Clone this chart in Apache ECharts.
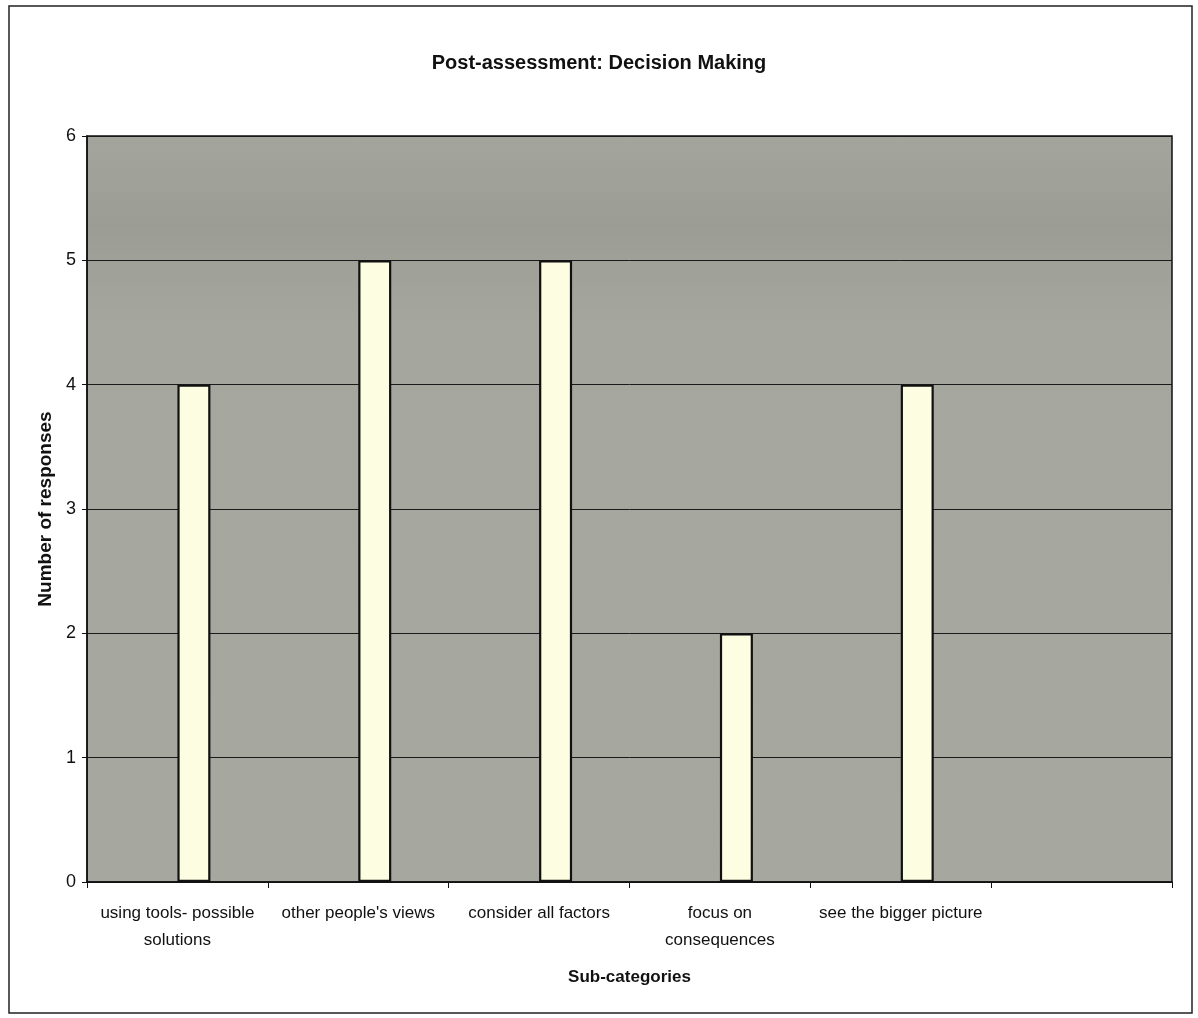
<!DOCTYPE html>
<html>
<head>
<meta charset="utf-8">
<title>Post-assessment: Decision Making</title>
<script src="https://cdn.jsdelivr.net/npm/echarts@6/dist/echarts.min.js"></script>
<style>
  html, body { margin: 0; padding: 0; background: #ffffff; }
  #chart { width: 1198px; height: 1018px; }
</style>
</head>
<body>
<div id="chart"></div>
<script>
// Sub-categories on the horizontal axis (last slot is left blank)
const categories = [
  'using tools- possible\nsolutions',
  "other people's views",
  'consider all factors',
  'focus on\nconsequences',
  'see the bigger picture',
  ''
];

// Number of responses per sub-category
const responses = [4, 5, 5, 2, 4, null];

// Empty companion series: keeps the bars sitting just right of each slot centre
const companion = [null, null, null, null, null, null];

// Y axis range and step
const yMin = 0;
const yMax = 6;
const yStep = 1;

const FONT = 'Liberation Sans, Arial, Helvetica, sans-serif';

const chart = echarts.init(document.getElementById('chart'), null, { renderer: 'canvas' });

chart.setOption({
  backgroundColor: '#ffffff',
  animation: false,
  title: {
    text: 'Post-assessment: Decision Making',
    left: 'center',
    top: 48,
    textStyle: { fontFamily: FONT, fontSize: 20, fontWeight: 'bold', color: '#111111' }
  },
  graphic: [
    {
      type: 'rect',
      shape: { x: 9, y: 6, width: 1183, height: 1007 },
      style: { fill: 'none', stroke: '#222222', lineWidth: 1.5 },
      silent: true,
      z: 0
    }
  ],
  grid: {
    left: 87,
    right: 26,
    top: 136,
    bottom: 136,
    show: true,
    borderColor: '#111111',
    borderWidth: 1.5,
    backgroundColor: new echarts.graphic.LinearGradient(0, 0, 0, 1, [
      { offset: 0, color: '#a3a59d' },
      { offset: 0.06, color: '#a0a29a' },
      { offset: 0.12, color: '#9b9d95' },
      { offset: 0.18, color: '#a0a29a' },
      { offset: 0.26, color: '#a5a79f' },
      { offset: 1, color: '#a6a8a0' }
    ])
  },
  xAxis: {
    type: 'category',
    data: categories,
    boundaryGap: true,
    name: 'Sub-categories',
    nameLocation: 'middle',
    nameGap: 87,
    nameTextStyle: { fontFamily: FONT, fontSize: 17, fontWeight: 'bold', color: '#111111' },
    axisLine: { show: true, lineStyle: { color: '#111111', width: 1.5 } },
    axisTick: { show: true, alignWithLabel: false, length: 6, lineStyle: { color: '#111111', width: 1 } },
    axisLabel: {
      interval: 0,
      margin: 18,
      fontFamily: FONT,
      fontSize: 17,
      lineHeight: 27,
      color: '#111111',
      align: 'center'
    },
    splitLine: { show: false }
  },
  yAxis: {
    type: 'value',
    min: yMin,
    max: yMax,
    interval: yStep,
    name: 'Number of responses',
    nameLocation: 'middle',
    nameGap: 31,
    nameRotate: 90,
    nameTextStyle: { fontFamily: FONT, fontSize: 19, fontWeight: 'bold', color: '#111111' },
    axisLine: { show: true, lineStyle: { color: '#111111', width: 1.5 } },
    axisTick: { show: true, length: 5, lineStyle: { color: '#111111', width: 1 } },
    axisLabel: { margin: 11, fontFamily: FONT, fontSize: 18, color: '#111111' },
    splitLine: { show: true, lineStyle: { color: '#1a1a1a', width: 1 } }
  },
  series: [
    {
      name: 'companion',
      type: 'bar',
      data: companion,
      barWidth: 33,
      barGap: '0%',
      silent: true,
      itemStyle: { color: 'transparent' }
    },
    {
      name: 'Number of responses',
      type: 'bar',
      data: responses,
      barWidth: 33,
      barGap: '0%',
      itemStyle: {
        color: '#fdfde1',
        borderColor: '#111111',
        borderWidth: 2.2
      }
    }
  ]
});
</script>
</body>
</html>
